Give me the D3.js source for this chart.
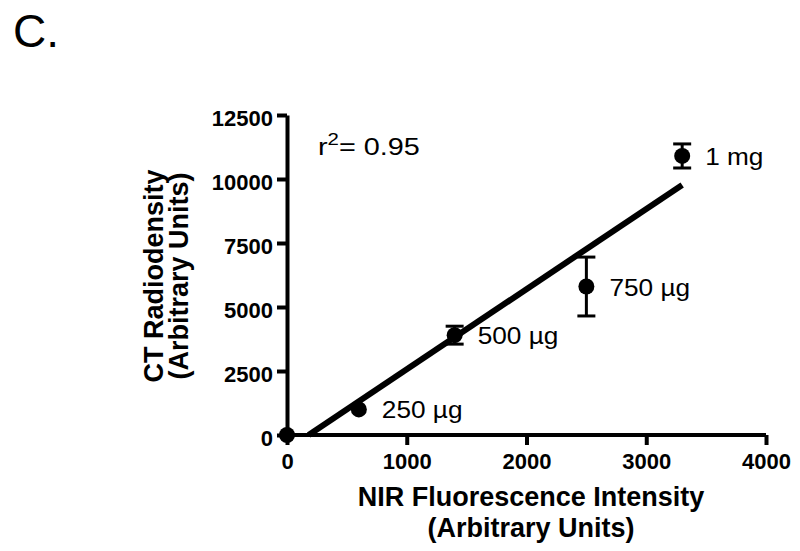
<!DOCTYPE html>
<html>
<head>
<meta charset="utf-8">
<script src="https://cdn.jsdelivr.net/npm/d3@7"></script>
<style>
  body { margin: 0; background: #fff; }
  svg { font-family: "Liberation Sans", Arial, sans-serif; }
</style>
</head>
<body>
<div class="diagram"></div>
<script>
// data
const doses = ["", "250 µg", "500 µg", "750 µg", "1 mg"];
const nirValues = [0, 600, 1400, 2500, 3300];
const ctValues = [0, 1000, 3900, 5800, 10900];
const ctErrors = [0, 0, 350, 1150, 470];
const xTicks = [0, 1000, 2000, 3000, 4000];
const yTicks = [0, 2500, 5000, 7500, 10000, 12500];
const rSquaredLabel = "0.95";

const w = 800,
      h = 551,
      svg = d3.select(".diagram")
      .append("svg")
      .attr("width", w)
      .attr("height", h);

const points = nirValues.map((x, i) => ({x: x, y: ctValues[i], e: ctErrors[i], label: doses[i]}));

const xScale = d3.scaleLinear()
  .domain([0, 4000])
  .range([287, 766]);
const yScale = d3.scaleLinear()
  .domain([0, 12500])
  .range([435, 115]);

// panel letter
svg.append("text")
  .attr("x", 13)
  .attr("y", 47)
  .attr("font-size", 46)
  .text("C.");

// axes
const xAxis = d3.axisBottom(xScale)
  .tickValues(xTicks)
  .tickFormat(d3.format("d"))
  .tickSize(10)
  .tickSizeOuter(0)
  .tickPadding(8);
const yAxis = d3.axisLeft(yScale)
  .tickValues(yTicks)
  .tickFormat(d3.format("d"))
  .tickSize(10)
  .tickSizeOuter(0)
  .tickPadding(4);

const gx = svg.append("g")
  .attr("transform", "translate(0," + yScale(0) + ")")
  .call(xAxis)
  .attr("id", "x-axis");
const gy = svg.append("g")
  .attr("transform", "translate(" + xScale(0) + ",0)")
  .call(yAxis)
  .attr("id", "y-axis");

[gx, gy].forEach((g) => {
  g.select(".domain").attr("stroke", "#000").attr("stroke-width", 4);
  g.selectAll(".tick line").attr("stroke", "#000").attr("stroke-width", 4);
  g.selectAll(".tick text")
    .attr("font-family", "'Liberation Sans', Arial, sans-serif")
    .attr("font-size", 22)
    .attr("font-weight", "bold")
    .attr("fill", "#000");
});
gy.selectAll(".tick text").attr("dy", "0.46em");
gx.select(".domain").attr("d", "M" + (xScale(0) - 4) + ",0H" + xScale(4000));

// linear fit through the points
const mx = d3.mean(points, (d) => d.x),
      my = d3.mean(points, (d) => d.y);
const slope = d3.sum(points, (d) => (d.x - mx) * (d.y - my)) / d3.sum(points, (d) => (d.x - mx) * (d.x - mx));
const intercept = my - slope * mx;
const x0 = -intercept / slope,
      x1 = d3.max(nirValues);

svg.append("line")
  .attr("x1", xScale(x0))
  .attr("y1", yScale(0))
  .attr("x2", xScale(x1))
  .attr("y2", yScale(intercept + slope * x1))
  .attr("stroke", "#000")
  .attr("stroke-width", 6);

// error bars
const bars = svg.selectAll(".err")
  .data(points.filter((d) => d.e > 0))
  .enter()
  .append("g")
  .attr("class", "err")
  .attr("stroke", "#000")
  .attr("stroke-width", 3);
bars.append("line")
  .attr("x1", (d) => xScale(d.x))
  .attr("x2", (d) => xScale(d.x))
  .attr("y1", (d) => yScale(d.y - d.e))
  .attr("y2", (d) => yScale(d.y + d.e));
bars.append("line")
  .attr("x1", (d) => xScale(d.x) - 9)
  .attr("x2", (d) => xScale(d.x) + 9)
  .attr("y1", (d) => yScale(d.y + d.e))
  .attr("y2", (d) => yScale(d.y + d.e));
bars.append("line")
  .attr("x1", (d) => xScale(d.x) - 9)
  .attr("x2", (d) => xScale(d.x) + 9)
  .attr("y1", (d) => yScale(d.y - d.e))
  .attr("y2", (d) => yScale(d.y - d.e));

svg.selectAll("circle")
  .data(points)
  .enter()
  .append("circle")
  .attr("cx", (d) => xScale(d.x))
  .attr("cy", (d) => yScale(d.y))
  .attr("r", 8)
  .attr("fill", "#000");

// dose labels (the original face is a bit wider than Liberation Sans)
svg.selectAll(".dose")
  .data(points.filter((d) => d.label))
  .enter()
  .append("text")
  .attr("class", "dose")
  .attr("transform", (d) => "translate(" + (xScale(d.x) + 23) + "," + (yScale(d.y) + 9) + ") scale(1.14,1)")
  .attr("font-size", 23)
  .text((d) => d.label);

// r squared
const rt = svg.append("text")
  .attr("transform", "translate(318,155) scale(1.2,1)")
  .attr("font-size", 24);
rt.append("tspan").text("r");
rt.append("tspan").attr("dy", -10).attr("font-size", 17).text("2");
rt.append("tspan").attr("dy", 10).text("= " + rSquaredLabel);

// axis titles
const xt = svg.append("text")
  .attr("text-anchor", "middle")
  .attr("font-size", 27)
  .attr("font-weight", "bold");
xt.append("tspan").attr("x", 531).attr("y", 506).text("NIR Fluorescence Intensity");
xt.append("tspan").attr("x", 531).attr("y", 537).text("(Arbitrary Units)");

const yt = svg.append("text")
  .attr("text-anchor", "middle")
  .attr("font-size", 27)
  .attr("font-weight", "bold")
  .attr("transform", "translate(163,276) rotate(-90)");
yt.append("tspan").attr("x", 0).attr("y", 0).text("CT Radiodensity");
yt.append("tspan").attr("x", 0).attr("y", 25).text("(Arbitrary Units)");
</script>
</body>
</html>
